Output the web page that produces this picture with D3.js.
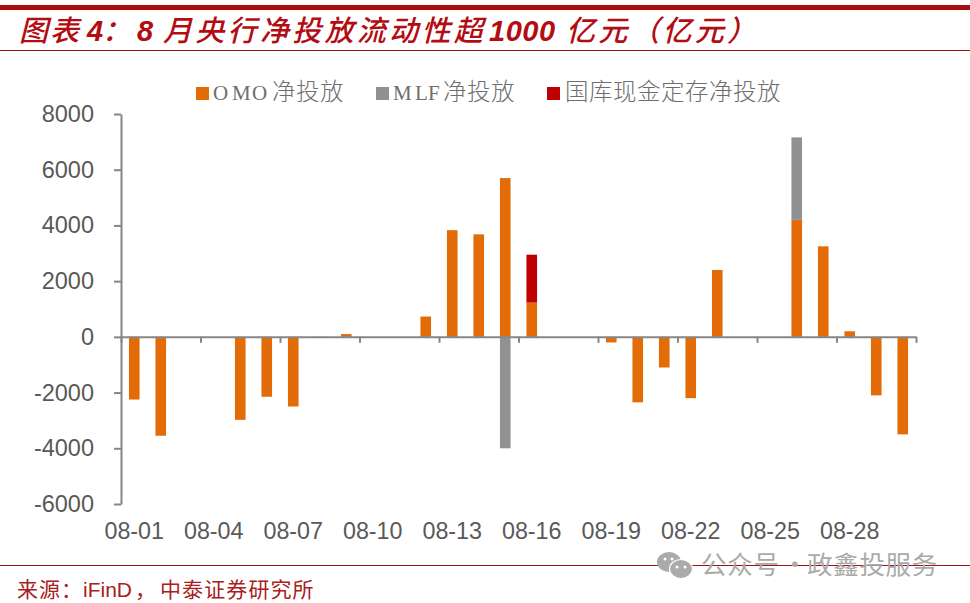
<!DOCTYPE html>
<html><head><meta charset="utf-8">
<script src="https://cdn.jsdelivr.net/npm/d3@7/dist/d3.min.js"></script>
<style>
html,body{margin:0;padding:0;background:#fff;overflow:hidden}
svg{display:block}
text{font-family:"Liberation Sans","Noto Sans CJK SC",sans-serif}
</style></head><body>
<svg id="c" width="970" height="603"></svg>
<script>
const categories = d3.range(1,31).map(d=>"08-"+String(d).padStart(2,"0"));
const tickLabels = ["08-01","08-04","08-07","08-10","08-13","08-16","08-19","08-22","08-25","08-28"];
const yTicks = [-6000,-4000,-2000,0,2000,4000,6000,8000];
const omo = [-2250,-3550,0,0,-2980,-2150,-2500,-30,100,0,0,730,3830,3680,5700,1230,0,0,-200,-2350,-1100,-2200,2400,0,0,4200,3250,200,-2100,-3500];
const mlf = [0,0,0,0,0,0,0,0,0,0,0,0,0,0,-4000,0,0,0,0,0,0,0,0,0,0,2960,0,0,0,0];
const treasury = [0,0,0,0,0,0,0,0,0,0,0,0,0,0,0,1720,0,0,0,0,0,0,0,0,0,0,0,0,0,0];
const seriesNames = ["OMO净投放","MLF净投放","国库现金定存净投放"];
const seriesColors = ["#E36C09","#919191","#C00000"];

const svg = d3.select("#c");
const axisColor="#868686", textColor="#595959", ruleColor="#9E1414", titleColor="#B30C12";

// frame rules
svg.append("rect").attr("x",0).attr("y",5).attr("width",970).attr("height",5).attr("fill","#A80F0F");
svg.append("rect").attr("x",0).attr("y",50).attr("width",970).attr("height",1).attr("fill",ruleColor);
svg.append("rect").attr("x",0).attr("y",565).attr("width",970).attr("height",1).attr("fill",ruleColor);

// title
const title = svg.append("text").attr("y",41).attr("fill",titleColor)
  .attr("font-size",29).attr("font-style","italic");
[["图表",19,2,500],["4",87,0,700],["：",102,0,500],["8",137,0,700],["月央行净投放流动性超",163,3.3,500],["1000",489,0.5,700],["亿元（亿元）",566,3.2,500]].forEach(([t,px,ls,w])=>{
  title.append("tspan").text(t).attr("x",px).attr("letter-spacing",ls).attr("font-weight",w);
});

// scales
const x = d3.scaleBand().domain(categories).range([121,916]).paddingInner(0.6).paddingOuter(0.3);
const xEdge = d3.scaleLinear().domain([0,categories.length]).range([121,916]);
const y = d3.scaleLinear().domain([-6000,8000]).range([504,114]);

// bars
const rows = categories.map((c,i)=>({c,a:omo[i],b:mlf[i],t:treasury[i]}));
const stacked = d3.stack().keys(["a","b","t"]).offset(d3.stackOffsetDiverging)(rows);
stacked.forEach((s,k)=>{
  svg.append("g").attr("fill",seriesColors[k]).selectAll("rect").data(s.filter(d=>d[0]!==d[1])).join("rect")
    .attr("x",d=>x(d.data.c)).attr("width",x.bandwidth())
    .attr("y",d=>y(Math.max(d[0],d[1]))).attr("height",d=>Math.abs(y(d[0])-y(d[1])));
});

// y axis
const gy = svg.append("g").attr("transform","translate(121,0)")
  .call(d3.axisLeft(y).tickValues(yTicks).tickFormat(d=>d).tickSize(7).tickPadding(20).tickSizeOuter(0));
gy.selectAll("path,line").attr("stroke",axisColor).attr("stroke-width",2);
gy.selectAll("text").attr("fill",textColor).attr("font-size",23.5).attr("font-family",'"Liberation Sans"');

// x axis ticks on the zero line
const gx = svg.append("g").attr("transform",`translate(0,${y(0)})`)
  .call(d3.axisBottom(xEdge).tickValues(d3.range(0,31,3)).tickFormat("").tickSize(6).tickSizeOuter(0));
gx.selectAll("path,line").attr("stroke",axisColor).attr("stroke-width",2);

// x labels
const gl = svg.append("g").attr("transform","translate(0,523)")
  .call(d3.axisBottom(x).tickValues(tickLabels).tickSize(0).tickPadding(0));
gl.select("path").remove();
gl.selectAll("text").attr("fill",textColor).attr("font-size",23.3).attr("font-family",'"Liberation Sans"').attr("dy","0.7em");

// legend
const legendX=[196,376,547];
const legendLatin=["OMO","MLF",""], legendLatinX=["213 232 252","393 415 428",""];
const legendCjk=["净投放","净投放","国库现金定存净投放"], legendCjkX=[272,443,565];
seriesNames.forEach((n,i)=>{
  svg.append("rect").attr("x",legendX[i]).attr("y",87).attr("width",13).attr("height",13).attr("fill",seriesColors[i]);
  if(legendLatin[i]) svg.append("text").attr("x",legendLatinX[i]).attr("y",100).attr("fill","#6e6e6e")
    .attr("font-size",21).style("font-family",'"Liberation Serif"').text(legendLatin[i]);
  svg.append("text").attr("x",legendCjkX[i]).attr("y",100).attr("fill","#6e6e6e")
    .attr("font-size",23.5).attr("letter-spacing",0.5).style("font-family",'"Noto Sans CJK SC"').attr("font-weight",300).text(legendCjk[i]);
});

// source
const src = svg.append("text").attr("y",597).attr("fill","#A82020").attr("font-size",21);
src.append("tspan").attr("x",17).text("来源：").attr("letter-spacing",1);
src.append("tspan").attr("x",83).text("iFinD").attr("font-family",'"Liberation Sans"');
src.append("tspan").attr("x",135).text("，").attr("letter-spacing",0);
src.append("tspan").attr("x",160).text("中泰证券研究所").attr("letter-spacing",1.1);

// watermark
const wm = svg.append("g").attr("fill","#aaaaaa");
wm.append("ellipse").attr("cx",669).attr("cy",562).attr("rx",12).attr("ry",10);
wm.append("ellipse").attr("cx",681).attr("cy",569).attr("rx",11.5).attr("ry",9.5).attr("stroke","#fff").attr("stroke-width",1.2);
[[665,559],[672,559],[677,567],[685,567]].forEach(([a,b])=>wm.append("circle").attr("cx",a).attr("cy",b).attr("r",1.5).attr("fill","#fff"));
[["公众号",701],["·",782],["政鑫投服务",807]].forEach(([t,px])=>{
  wm.append("text").attr("x",px).attr("y",574).attr("font-size",25.5).attr("letter-spacing",0.7)
    .style("font-family",'"Noto Sans CJK SC"').text(t);
});
</script>
</body></html>
